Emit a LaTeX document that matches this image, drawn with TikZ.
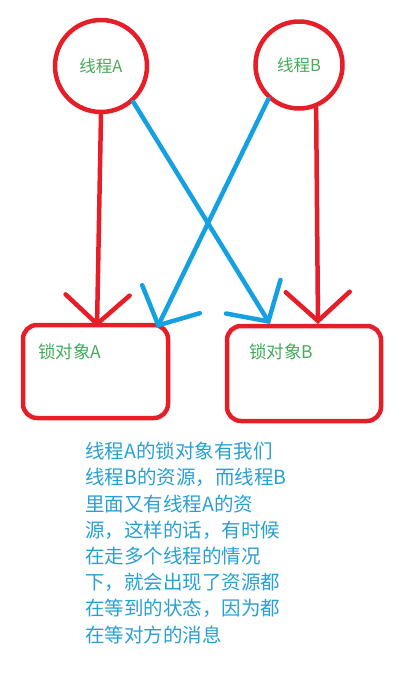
\documentclass[tikz,border=0pt]{standalone}
\usepackage{fontspec}
\newfontfamily\cjk{Noto Sans CJK SC}
\usetikzlibrary{arrows.meta}
\definecolor{pred}{RGB}{230,30,40}
\definecolor{pblue}{RGB}{20,160,225}
\definecolor{pgreen}{RGB}{70,170,90}
\definecolor{ptext}{RGB}{40,160,210}
\tikzset{
  thread/.style={circle,draw=pred,line width=4.5pt,inner sep=0pt,text=pgreen,font=\cjk\fontsize{16.5}{19}\selectfont},
  lockbox/.style={rectangle,draw=pred,line width=4.5pt,rounded corners=14pt,inner sep=0pt},
  locklabel/.style={anchor=west,text=pgreen,font=\cjk\fontsize{17.5}{20}\selectfont,inner sep=0pt},
  redarrow/.style={draw=pred,line width=4.5pt,line cap=round,-{Straight Barb[length=29pt,width=64pt,line cap=round]}},
  bluearrow/.style={draw=pblue,line width=4.5pt,line cap=round,-{Straight Barb[length=29pt,width=64pt,line cap=round]}},
  note/.style={anchor=north west,align=left,text=ptext,inner sep=0pt,font=\cjk\fontsize{19.5}{26.2}\selectfont}
}
\begin{document}
\begin{tikzpicture}[x=1pt,y=-1pt]
\useasboundingbox (0,0) rectangle (414,681);
\node[thread,minimum size=92pt] (cA) at (101,66) {线程A};
\node[thread,minimum size=87pt] (cB) at (299,65) {线程B};
\node[lockbox,minimum width=145pt,minimum height=93pt] (bA) at (95.5,371.5) {};
\node[lockbox,minimum width=154pt,minimum height=95pt] (bB) at (304,373.5) {};
\node[locklabel] (lA) at (38,352) {锁对象A};
\node[locklabel] (lB) at (249,352) {锁对象B};
\coordinate (tAr) at (97,327);
\coordinate (tAb) at (157,328);
\coordinate (tBb) at (270,324);
\coordinate (tBr) at (318,324);
\draw[redarrow] (cA.south) -- (tAr);
\draw[redarrow] (cB.-68) -- (tBr);
\draw[bluearrow] (cA.-48) -- (tBb);
\draw[bluearrow] (cB.-132) -- (tAb);
\node[note] (txt) at (85,442) {线程A的锁对象有我们\\线程B的资源，而线程B\\里面又有线程A的资\\源，这样的话，有时候\\在走多个线程的情况\\下，就会出现了资源都\\在等到的状态，因为都\\在等对方的消息};
\end{tikzpicture}
\end{document}
